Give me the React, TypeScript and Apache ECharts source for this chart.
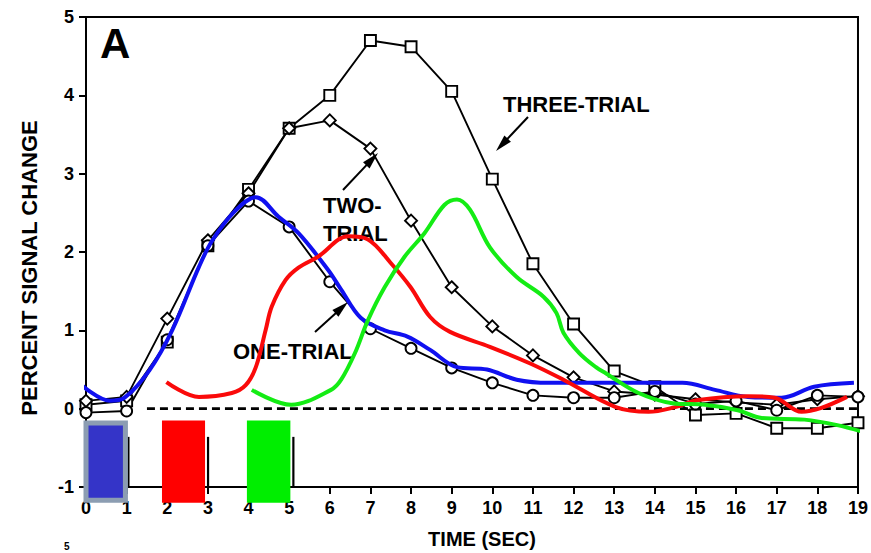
import React, { useEffect, useRef } from "react";
import * as echarts from "echarts";

// Sampling times (s) of the averaged responses
const TIME = [0, 1, 2, 3, 4, 5, 6, 7, 8, 9, 10, 11, 12, 13, 14, 15, 16, 17, 18, 19];

// Averaged percent signal change, one value per second
const THREE_TRIAL = [0.05, 0.1, 0.85, 2.08, 2.8, 3.58, 4.0, 4.7, 4.62, 4.05, 2.93, 1.85, 1.08, 0.48, 0.28, -0.08, -0.06, -0.25, -0.25, -0.18];
const TWO_TRIAL = [0.1, 0.15, 1.15, 2.15, 2.75, 3.58, 3.68, 3.32, 2.4, 1.55, 1.05, 0.68, 0.4, 0.22, 0.18, 0.12, 0.08, 0.05, 0.12, 0.16];
const ONE_TRIAL = [-0.05, -0.03, 0.88, 2.08, 2.65, 2.32, 1.62, 1.02, 0.77, 0.52, 0.33, 0.17, 0.14, 0.14, 0.22, 0.06, 0.1, -0.02, 0.17, 0.15];

// Smoothed single-event responses [time, percent change]
const BLUE_CURVE = [
  [-0.15, 0.32], [0.59, 0.1], [0.95, 0.14], [1.56, 0.49], [2.12, 1.0], [2.78, 1.81], [3.1, 2.14],
  [3.64, 2.51], [4.18, 2.7], [4.74, 2.45], [5.23, 2.24], [5.96, 1.77], [6.28, 1.52], [6.76, 1.16],
  [7.35, 1.0], [7.91, 0.92], [8.47, 0.75], [9.13, 0.53], [9.87, 0.5], [10.6, 0.37], [11.4, 0.33],
  [13.04, 0.33], [14.68, 0.33], [15.48, 0.24], [16.29, 0.15], [17.12, 0.14], [17.92, 0.28], [18.9, 0.33],
];
const RED_CURVE = [
  [1.98, 0.34], [2.78, 0.15], [3.59, 0.2], [3.93, 0.3], [4.18, 0.53], [4.42, 1.0], [4.57, 1.3],
  [4.91, 1.64], [5.23, 1.8], [5.71, 1.94], [6.45, 2.2], [6.94, 2.16], [7.5, 1.86], [7.99, 1.55],
  [8.47, 1.17], [8.96, 0.98], [9.94, 0.79], [10.92, 0.58], [11.75, 0.37], [13.04, 0.02], [13.85, -0.04],
  [14.5, 0.02], [15.07, 0.11], [16.29, 0.16], [16.95, 0.14], [17.61, -0.04], [18.1, 0.01], [18.73, 0.15],
];
const GREEN_CURVE = [
  [4.08, 0.24], [5.05, 0.05], [6.03, 0.24], [6.28, 0.37], [6.62, 0.71], [6.94, 1.13], [7.35, 1.55],
  [7.84, 1.94], [8.33, 2.24], [8.82, 2.6], [9.13, 2.67], [9.45, 2.54], [9.94, 2.06], [10.6, 1.68],
  [11.26, 1.43], [11.58, 1.22], [11.75, 0.97], [12.14, 0.71], [12.55, 0.53], [12.8, 0.45], [13.6, 0.2],
  [14.43, 0.07], [15.24, 0.05], [16.04, -0.02], [16.63, -0.12], [17.68, -0.14], [18.49, -0.21], [19.15, -0.3],
];

// Zero-change reference line [time, value]
const BASELINE = [[1.5, 0], [19, 0]];

// Stimulus presentation windows [start, end] in seconds
const STIMULI = [
  [0, 0.97],
  [1.87, 2.93],
  [3.96, 5.03],
];

const FONT = '"Liberation Sans", Arial, Helvetica, sans-serif';
const STIM_FILL = ["#3434c8", "#ff0000", "#00ee00"];
const STIM_STROKE = ["#8c9db2", null, null];
const BLOCK_TOP = -0.15;
const BLOCK_BOTTOM = -1.2;
const EDGE_TOP = -0.36;

function arrow(tail: [number, number], tip: [number, number]) {
  const dx = tip[0] - tail[0];
  const dy = tip[1] - tail[1];
  const len = Math.hypot(dx, dy);
  const ux = dx / len;
  const uy = dy / len;
  const hl = 17;
  const hw = 4.5;
  const bx = tip[0] - ux * hl;
  const by = tip[1] - uy * hl;
  const px = -uy;
  const py = ux;
  return [
    { type: "line", shape: { x1: tail[0], y1: tail[1], x2: bx + ux * 3, y2: by + uy * 3 }, style: { stroke: "#000", lineWidth: 2 } },
    {
      type: "polygon",
      shape: { points: [[tip[0], tip[1]], [bx + px * hw, by + py * hw], [bx - px * hw, by - py * hw]] },
      style: { fill: "#000" },
    },
  ];
}

function label(text: string, x: number, y: number, size: number, extra: any = {}) {
  return {
    type: "text",
    x,
    y,
    ...extra,
    style: {
      text,
      fontSize: size,
      fontWeight: "bold",
      fontFamily: FONT,
      fill: "#000",
      align: extra.align || "left",
      verticalAlign: "middle",
    },
  };
}

const blackSeries = (name: string, values: number[], symbol: string, size: number) => ({
  name,
  type: "line",
  data: TIME.map((t, i) => [t, values[i]]),
  symbol,
  symbolSize: size,
  showSymbol: true,
  lineStyle: { color: "#000", width: 1.9 },
  itemStyle: { color: "#fff", borderColor: "#000", borderWidth: 1.9 },
  z: 3,
});

const curveSeries = (name: string, pts: number[][], color: string) => ({
  name,
  type: "line",
  data: pts,
  smooth: 0.35,
  symbol: "none",
  clip: false,
  lineStyle: { color, width: 4 },
  z: 6,
});

export default function App() {
  const ref = useRef<HTMLDivElement>(null);

  useEffect(() => {
    if (!ref.current) return;
    const chart = echarts.init(ref.current, null, { renderer: "svg" });

    const axisLabel = { color: "#000", fontSize: 18, fontWeight: "bold", fontFamily: FONT };

    chart.setOption({
      animation: false,
      backgroundColor: "#fff",
      grid: {
        left: 86,
        right: 7,
        top: 17,
        bottom: 66,
        show: true,
        borderColor: "#000",
        borderWidth: 2,
      },
      xAxis: {
        type: "value",
        min: 0,
        max: 19,
        interval: 1,
        axisLine: { show: true, onZero: false, lineStyle: { color: "#000", width: 2 } },
        axisTick: { show: true, length: 7, lineStyle: { color: "#000", width: 2 } },
        axisLabel: { ...axisLabel, margin: 12 },
        splitLine: { show: false },
      },
      yAxis: {
        type: "value",
        min: -1,
        max: 5,
        interval: 1,
        axisLine: { show: true, onZero: false, lineStyle: { color: "#000", width: 2 } },
        axisTick: { show: true, length: 7, lineStyle: { color: "#000", width: 2 } },
        axisLabel: { ...axisLabel, margin: 12 },
        splitLine: { show: false },
      },
      series: [
        {
          name: "baseline",
          type: "line",
          data: BASELINE,
          symbol: "none",
          lineStyle: { color: "#000", width: 2.6, type: [8, 5] },
          z: 2,
        },
        blackSeries("THREE-TRIAL", THREE_TRIAL, "rect", 11),
        blackSeries("TWO-TRIAL", TWO_TRIAL, "diamond", 12),
        blackSeries("ONE-TRIAL", ONE_TRIAL, "circle", 11),
        curveSeries("blue", BLUE_CURVE, "#1010f0"),
        curveSeries("red", RED_CURVE, "#fa0a0a"),
        curveSeries("green", GREEN_CURVE, "#14ec14"),
        {
          type: "custom",
          name: "stimulus",
          data: STIMULI,
          encode: { x: [0, 1] },
          clip: false,
          z: 7,
          renderItem: (params: any, api: any) => {
            const i = params.dataIndex;
            const s = api.value(0);
            const e = api.value(1);
            const [x0, yTop] = api.coord([s, BLOCK_TOP]);
            const [x1, yBot] = api.coord([e, BLOCK_BOTTOM]);
            const stroke = STIM_STROKE[i];
            const inset = stroke ? 2.5 : 0;
            const [, eTop] = api.coord([e, EDGE_TOP]);
            const [, eBot] = api.coord([e, -1]);
            return {
              type: "group",
              children: [
                {
                  type: "line",
                  shape: { x1: x1 + 3, y1: eTop, x2: x1 + 3, y2: eBot },
                  style: { stroke: "#000", lineWidth: 2.2 },
                },
                {
                  type: "rect",
                  shape: { x: x0, y: yTop + inset, width: x1 - x0, height: yBot - yTop - 2 * inset },
                  style: { fill: STIM_FILL[i], stroke: stroke || "none", lineWidth: stroke ? 5 : 0 },
                },
              ],
            };
          },
        },
      ],
      graphic: [
        label("A", 100, 43, 42),
        label("THREE-TRIAL", 503, 104, 22),
        label("TWO-", 323, 205, 22),
        label("TRIAL", 323, 233, 22),
        label("ONE-TRIAL", 233, 351, 22),
        label("TIME (SEC)", 482, 539, 20, { align: "center" }),
        label("PERCENT SIGNAL CHANGE", 29, 268, 22, { align: "center", rotation: Math.PI / 2 }),
        label("5", 64, 546, 10),
        ...arrow([528, 117], [496, 151]),
        ...arrow([343, 190], [378, 153]),
        ...arrow([315, 332], [348, 302]),
      ],
    });

    return () => chart.dispose();
  }, []);

  return (
    <div
      ref={ref}
      style={{ position: "fixed", left: 0, top: 0, width: 871, height: 553, background: "#fff" }}
    />
  );
}
